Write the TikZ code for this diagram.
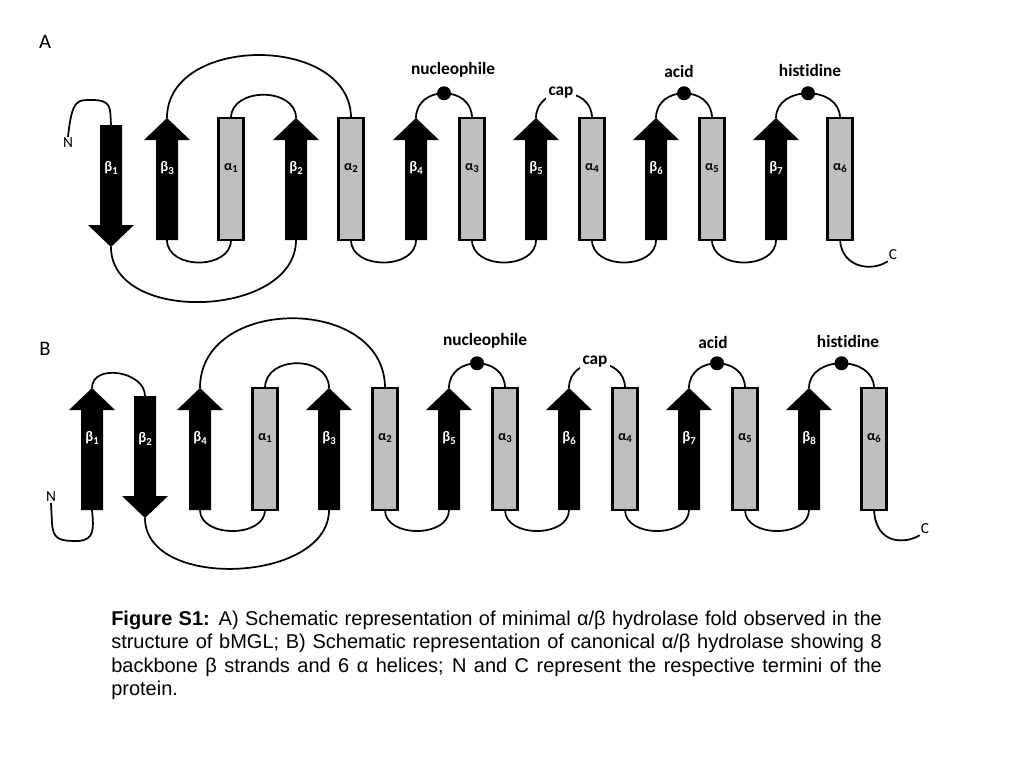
\documentclass[tikz,border=0pt]{standalone}
\usepackage{fontspec}
\setmainfont{Carlito}
\newfontfamily\calibri[Ligatures=NoCommon]{Carlito}
\newfontfamily\arialfont{Liberation Sans}
\definecolor{helixgray}{RGB}{191,191,191}
\newcommand{\ix}[1]{\raisebox{-0.3ex}{\fontsize{8}{8}\selectfont #1}}
\begin{document}
\begin{tikzpicture}[x=0.75pt,y=0.75pt,yscale=-1,xscale=1,
    lp/.style={line width=1.3pt},
    blab/.style={text=white,inner sep=0.75pt,font=\calibri\bfseries\fontsize{11}{12}\selectfont},
    alab/.style={text=black,inner sep=0.75pt,font=\calibri\bfseries\fontsize{10.5}{12}\selectfont},
    site/.style={inner sep=0.75pt,font=\calibri\bfseries\fontsize{13}{15}\selectfont},
    term/.style={inner sep=0.75pt,font=\calibri\fontsize{11.5}{13}\selectfont},
    panel/.style={inner sep=0.75pt,font=\calibri\fontsize{15.5}{17}\selectfont},
    dot/.style={circle,fill=black,inner sep=0pt,minimum size=10.5pt},
    % inside a pic the y axis points up
    upstrand/.pic={
        \fill (-11,-61) -- (-11,39) -- (-23,39) -- (0,61) -- (23,39) -- (11,39) -- (11,-61) -- cycle;
        \coordinate (-top) at (0,61);
        \coordinate (-bot) at (0,-61);
        \node[blab] (-lab) at (0,11) {#1};},
    downstrand/.pic={
        \fill (-11,61) -- (-11,-39) -- (-23,-39) -- (0,-61) -- (23,-39) -- (11,-39) -- (11,61) -- cycle;
        \coordinate (-top) at (0,61);
        \coordinate (-bot) at (0,-61);
        \node[blab] (-lab) at (0,18) {#1};},
    helix/.pic={
        \draw[line width=2pt,fill=helixgray] (-12.5,-61) rectangle (12.5,61);
        \coordinate (-top) at (0,61);
        \coordinate (-bot) at (0,-61);
        \node[alab] (-lab) at (0,11) {#1};}]
\useasboundingbox (0,0) rectangle (1024,768);

% panel A
\node[panel] (Alet) at (45,42) {A};
\pic (Ab1) at (111,186) {downstrand={β\ix{1}}};
\pic (Ab3) at (167,179) {upstrand={β\ix{3}}};
\pic (Aa1) at (231,179) {helix={α\ix{1}}};
\pic (Ab2) at (296,179) {upstrand={β\ix{2}}};
\pic (Aa2) at (351,179) {helix={α\ix{2}}};
\pic (Ab4) at (416,179) {upstrand={β\ix{4}}};
\pic (Aa3) at (472,179) {helix={α\ix{3}}};
\pic (Ab5) at (536,179) {upstrand={β\ix{5}}};
\pic (Aa4) at (592,179) {helix={α\ix{4}}};
\pic (Ab6) at (656,179) {upstrand={β\ix{6}}};
\pic (Aa5) at (712,179) {helix={α\ix{5}}};
\pic (Ab7) at (776,179) {upstrand={β\ix{7}}};
\pic (Aa6) at (840,179) {helix={α\ix{6}}};
\node[term] (AN) at (68,143) {N};
\node[term] (AC) at (893,255) {C};

\draw[lp] (AN.north) .. controls (72,98) and (78,100) .. (92,100) .. controls (112,100) and (110,108) .. (Ab1-top);
\draw[lp] (Ab1-bot) .. controls +(0,78) and +(0,78) .. (Ab2-bot);
\draw[lp] (Ab3-bot) .. controls +(0,30) and +(0,30) .. (Aa1-bot);
\draw[lp] (Ab3-top) .. controls +(0,-84) and +(0,-84) .. (Aa2-top);
\draw[lp] (Aa1-top) .. controls +(0,-31) and +(0,-31) .. (Ab2-top);
\draw[lp] (Aa2-bot) .. controls +(0,30) and +(0,30) .. (Ab4-bot);
\draw[lp] (Ab4-top) .. controls +(0,-33) and +(0,-33) .. node[dot,pos=0.5] (Anuc) {} (Aa3-top);
\draw[lp] (Aa3-bot) .. controls +(0,30) and +(0,30) .. (Ab5-bot);
\draw[lp] (Ab5-top) .. controls +(0,-33) and +(0,-33) .. (Aa4-top);
\draw[lp] (Aa4-bot) .. controls +(0,30) and +(0,30) .. (Ab6-bot);
\draw[lp] (Ab6-top) .. controls +(0,-33) and +(0,-33) .. node[dot,pos=0.5] (Aacid) {} (Aa5-top);
\draw[lp] (Aa5-bot) .. controls +(0,30) and +(0,30) .. (Ab7-bot);
\draw[lp] (Ab7-top) .. controls +(0,-33) and +(0,-33) .. node[dot,pos=0.5] (Ahis) {} (Aa6-top);
\draw[lp] (Aa6-bot) .. controls (842,268) and (872,272) .. (AC.south west);

\node[site] (Anuclab) at (453,70) {nucleophile};
\node[site,fill=white,inner sep=2pt] (Acaplab) at (561,93) {cap};
\node[site] (Aacidlab) at (679,71) {acid};
\node[site] (Ahislab) at (810,70) {histidine};

% panel B
\node[panel] (Blet) at (45,349) {B};
\pic (Bb1) at (92,449) {upstrand={β\ix{1}}};
\pic (Bb2) at (145,457) {downstrand={β\ix{2}}};
\pic (Bb4) at (200,449) {upstrand={β\ix{4}}};
\pic (Ba1) at (265,449) {helix={α\ix{1}}};
\pic (Bb3) at (329,449) {upstrand={β\ix{3}}};
\pic (Ba2) at (385,449) {helix={α\ix{2}}};
\pic (Bb5) at (449,449) {upstrand={β\ix{5}}};
\pic (Ba3) at (505,449) {helix={α\ix{3}}};
\pic (Bb6) at (569,449) {upstrand={β\ix{6}}};
\pic (Ba4) at (625,449) {helix={α\ix{4}}};
\pic (Bb7) at (689,449) {upstrand={β\ix{7}}};
\pic (Ba5) at (745,449) {helix={α\ix{5}}};
\pic (Bb8) at (809,449) {upstrand={β\ix{8}}};
\pic (Ba6) at (874,449) {helix={α\ix{6}}};
\node[term] (BN) at (51,497) {N};
\node[term] (BC) at (925,529) {C};

\draw[lp] (BN.south) -- (52,523) .. controls (53,540) and (60,541) .. (78,541) .. controls (94,540) and (94,530) .. (Bb1-bot);
\draw[lp] (Bb1-top) .. controls +(0,-25) and +(0,-25) .. (Bb2-top);
\draw[lp] (Bb2-bot) .. controls +(0,73) and +(0,73) .. (Bb3-bot);
\draw[lp] (Bb4-bot) .. controls +(0,28) and +(0,28) .. (Ba1-bot);
\draw[lp] (Bb4-top) .. controls +(0,-93) and +(0,-93) .. (Ba2-top);
\draw[lp] (Ba1-top) .. controls +(0,-33) and +(0,-33) .. (Bb3-top);
\draw[lp] (Ba2-bot) .. controls +(0,28) and +(0,28) .. (Bb5-bot);
\draw[lp] (Bb5-top) .. controls +(0,-33) and +(0,-33) .. node[dot,pos=0.5] (Bnuc) {} (Ba3-top);
\draw[lp] (Ba3-bot) .. controls +(0,28) and +(0,28) .. (Bb6-bot);
\draw[lp] (Bb6-top) .. controls +(0,-33) and +(0,-33) .. (Ba4-top);
\draw[lp] (Ba4-bot) .. controls +(0,28) and +(0,28) .. (Bb7-bot);
\draw[lp] (Bb7-top) .. controls +(0,-33) and +(0,-33) .. node[dot,pos=0.5] (Bacid) {} (Ba5-top);
\draw[lp] (Ba5-bot) .. controls +(0,28) and +(0,28) .. (Bb8-bot);
\draw[lp] (Bb8-top) .. controls +(0,-33) and +(0,-33) .. node[dot,pos=0.5] (Bhis) {} (Ba6-top);
\draw[lp] (Ba6-bot) .. controls (876,545) and (905,544) .. (BC.south west);

\node[site] (Bnuclab) at (485,341) {nucleophile};
\node[site,fill=white,inner sep=2pt] (Bcaplab) at (595,362) {cap};
\node[site] (Bacidlab) at (713,342) {acid};
\node[site] (Bhislab) at (848,341) {histidine};

% caption
\node[anchor=north west,inner sep=0pt,text width=578pt,align=justify,
      font=\arialfont\fontsize{15}{17.4}\selectfont] (caption) at (111,611)
  {\hyphenpenalty=10000 \textbf{Figure S1:} A) Schematic representation of minimal α/β hydrolase fold observed in the\linebreak
   structure of bMGL; B) Schematic representation of canonical α/β hydrolase showing 8\linebreak
   backbone β strands and 6 α helices; N and C represent the respective termini of the\linebreak
   protein.};
\end{tikzpicture}
\end{document}
